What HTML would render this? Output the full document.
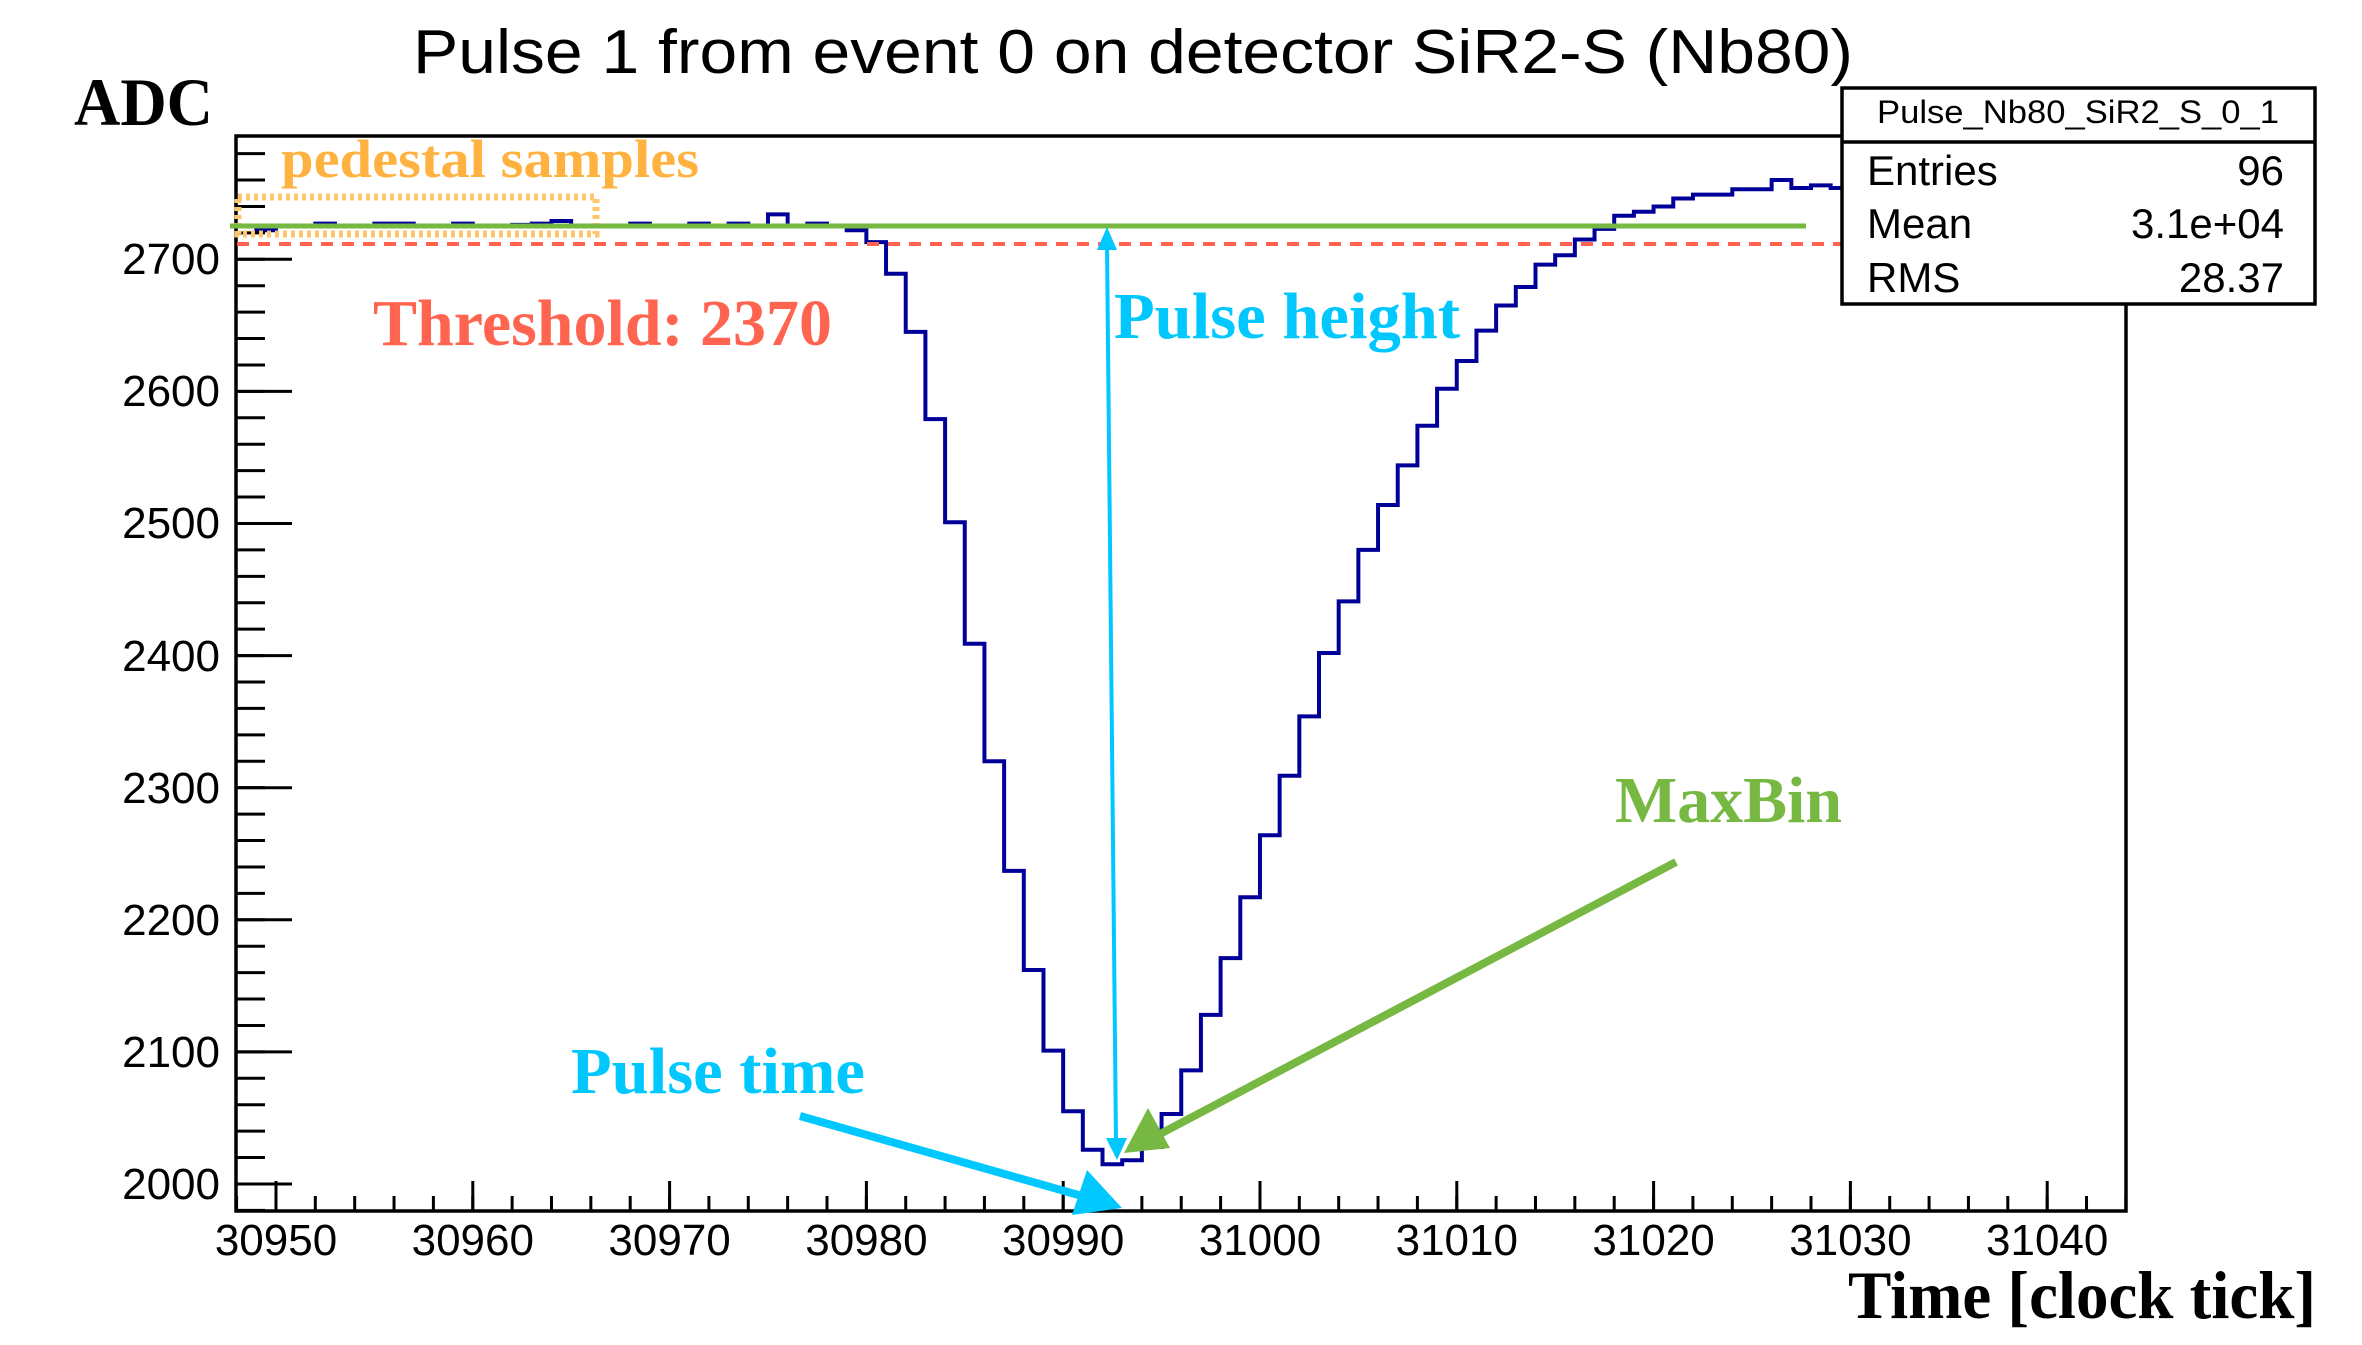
<!DOCTYPE html>
<html><head><meta charset="utf-8"><style>
html,body{margin:0;padding:0;background:#fff;}
svg{display:block;}
.h{font-family:"Liberation Sans",Arial,sans-serif;}
.t{font-family:"Liberation Serif","Times New Roman",serif;font-weight:bold;}
</style></head><body>
<svg width="2362" height="1345" viewBox="0 0 2362 1345" xmlns="http://www.w3.org/2000/svg">
<rect width="2362" height="1345" fill="#fff"/>
<text class="h" x="413" y="73" font-size="62" textLength="1440" lengthAdjust="spacingAndGlyphs">Pulse 1 from event 0 on detector SiR2-S (Nb80)</text>
<text class="t" x="74" y="125" font-size="68" textLength="139" lengthAdjust="spacingAndGlyphs">ADC</text>

<path transform="matrix(0.99646 0 0 1 4.425 0)" d="M234,226.3 H252.75 V230.2 H272.5 V226.3 H312 V223.6 H331.75 V226.3 H371.25 V223.6 H410.75 V226.3 H450.25 V223.6 H470 V226.3 H509.5 V224.9 H529.25 V223.6 H549 V221 H568.75 V226.3 H628 V223.6 H647.75 V226.3 H687.25 V223.6 H707 V226.3 H726.75 V223.6 H746.5 V226.3 H766.25 V214.4 H786 V226.3 H805.75 V223.6 H825.5 V226.3 H845.25 V230.2 H865 V242.1 H884.75 V273.8 H904.5 V331.9 H924.25 V419.1 H944 V522.2 H963.75 V643.7 H983.5 V761.3 H1003.25 V870.9 H1023 V970 H1042.75 V1050.6 H1062.5 V1111.3 H1082.25 V1149.7 H1102 V1164.2 H1121.75 V1160.2 H1141.5 V1147 H1161.25 V1114 H1181 V1070.4 H1200.75 V1014.9 H1220.5 V958.1 H1240.25 V897.3 H1260 V835.3 H1279.75 V775.8 H1299.5 V716.4 H1319.25 V653 H1339 V601.4 H1358.75 V549.9 H1378.5 V505 H1398.25 V465.4 H1418 V425.7 H1437.75 V388.8 H1457.5 V361 H1477.25 V330.6 H1497 V305.5 H1516.75 V287 H1536.5 V264.6 H1556.25 V255.3 H1576 V239.5 H1595.75 V228.9 H1615.5 V215.7 H1635.25 V211.7 H1655 V206.5 H1674.75 V198.5 H1694.5 V194.6 H1734 V189.3 H1773.5 V180 H1793.25 V188 H1813 V185.4 H1832.75 V188 H1852.5 V190.6 H2129" fill="none" stroke="#000099" stroke-width="4"/>

<rect x="236" y="136" width="1890" height="1075" fill="none" stroke="#000" stroke-width="3.5"/>
<line x1="235.1" y1="1203.5" x2="2127" y2="1203.5" stroke="#000" stroke-width="15" stroke-dasharray="3 36.36"/>
<line x1="274.5" y1="1196" x2="2127" y2="1196" stroke="#000" stroke-width="30" stroke-dasharray="3 193.8"/>
<line x1="251" y1="152.1" x2="251" y2="1212" stroke="#000" stroke-width="28" stroke-dasharray="3 23.42"/>
<line x1="264.5" y1="257.8" x2="264.5" y2="1190" stroke="#000" stroke-width="55" stroke-dasharray="3 129.1"/>

<g class="h" font-size="44" text-anchor="end">
<text x="220" y="274">2700</text><text x="220" y="406">2600</text><text x="220" y="538">2500</text><text x="220" y="671">2400</text>
<text x="220" y="803">2300</text><text x="220" y="935">2200</text><text x="220" y="1067">2100</text><text x="220" y="1199">2000</text>
</g>
<g class="h" font-size="44" text-anchor="middle">
<text x="276" y="1255">30950</text><text x="472.8" y="1255">30960</text><text x="669.6" y="1255">30970</text><text x="866.4" y="1255">30980</text>
<text x="1063.2" y="1255">30990</text><text x="1260" y="1255">31000</text><text x="1456.8" y="1255">31010</text><text x="1653.6" y="1255">31020</text>
<text x="1850.4" y="1255">31030</text><text x="2047.2" y="1255">31040</text>
</g>
<text class="t" x="1848" y="1318" font-size="68" textLength="468" lengthAdjust="spacingAndGlyphs">Time [clock tick]</text>

<rect x="238" y="197" width="358" height="37" fill="none" stroke="#ffc46e" stroke-width="7" stroke-dasharray="4 4"/>
<text class="t" x="281" y="177" font-size="54" fill="#ffb240" textLength="418" lengthAdjust="spacingAndGlyphs">pedestal samples</text>

<line x1="230" y1="226" x2="1806" y2="226" stroke="#77b843" stroke-width="5"/>
<line x1="237" y1="244" x2="1850" y2="244" stroke="#ff634f" stroke-width="4" stroke-dasharray="12 9"/>
<text class="t" x="373" y="345" font-size="66" fill="#ff6450" textLength="459" lengthAdjust="spacingAndGlyphs">Threshold: 2370</text>

<line x1="1107" y1="245" x2="1116" y2="1142" stroke="#00c8ff" stroke-width="4"/>
<polygon points="1107,227 1097,250 1117,250" fill="#00c8ff"/>
<polygon points="1117,1160 1106,1138 1127,1138" fill="#00c8ff"/>
<text class="t" x="1114" y="338" font-size="66" fill="#00c8ff" textLength="346" lengthAdjust="spacingAndGlyphs">Pulse height</text>

<text class="t" x="571" y="1093" font-size="66" fill="#00c8ff" textLength="294" lengthAdjust="spacingAndGlyphs">Pulse time</text>
<line x1="800" y1="1116" x2="1082" y2="1196" stroke="#00c8ff" stroke-width="8"/>
<polygon points="1122,1208 1072,1215 1087,1170" fill="#00c8ff"/>

<text class="t" x="1615" y="822" font-size="66" fill="#77b843" textLength="227" lengthAdjust="spacingAndGlyphs">MaxBin</text>
<line x1="1676" y1="862" x2="1160" y2="1134" stroke="#77b843" stroke-width="8"/>
<polygon points="1124,1153 1148,1108 1170,1148" fill="#77b843"/>

<rect x="1842" y="88" width="473" height="216" fill="#fff" stroke="#000" stroke-width="3.5"/>
<line x1="1842" y1="142" x2="2315" y2="142" stroke="#000" stroke-width="3.5"/>
<text class="h" x="2078" y="123" font-size="32" text-anchor="middle" textLength="402" lengthAdjust="spacingAndGlyphs">Pulse_Nb80_SiR2_S_0_1</text>
<g class="h" font-size="42">
<text x="1867" y="185">Entries</text><text x="2284" y="185" text-anchor="end">96</text>
<text x="1867" y="238">Mean</text><text x="2284" y="238" text-anchor="end">3.1e+04</text>
<text x="1867" y="292">RMS</text><text x="2284" y="292" text-anchor="end">28.37</text>
</g>
</svg>
</body></html>
